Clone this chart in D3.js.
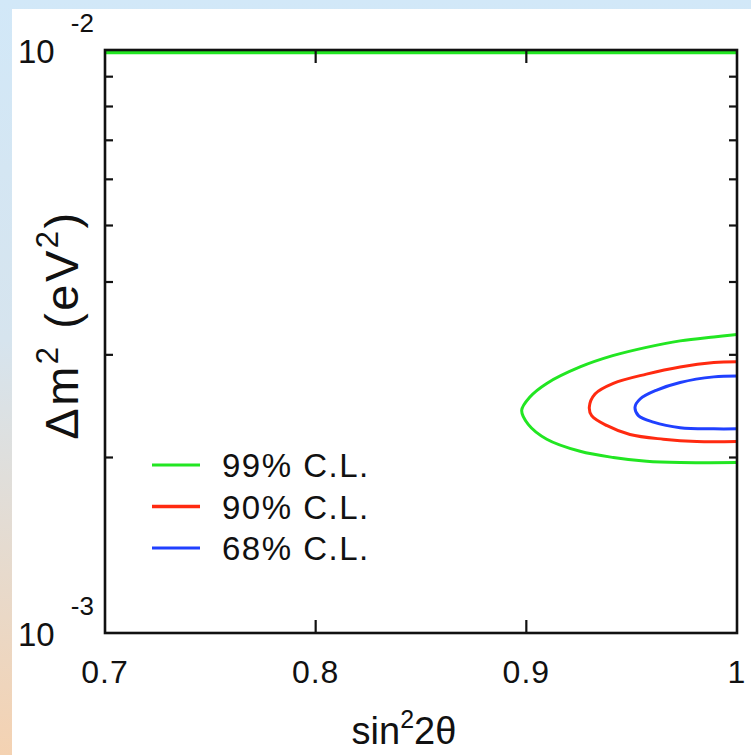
<!DOCTYPE html>
<meta charset="utf-8">
<style>
html, body { margin: 0; padding: 0; }
body { width: 751px; height: 755px; overflow: hidden; }
text { font-family: "Liberation Sans", Arial, sans-serif; fill: #111; }
</style>
<body>
<script src="https://d3js.org/d3.v7.min.js"></script>
<script>

var width = 751,
    height = 755;

// plot frame
var pLeft = 105, pRight = 737, pTop = 50, pBottom = 633;

// axis values
var xTicks = [0.7, 0.8, 0.9, 1];
var xTickLabels = ["0.7", "0.8", "0.9", "1"];
var yMinor = [2e-3, 3e-3, 4e-3, 5e-3, 6e-3, 7e-3, 8e-3, 9e-3];

// contours, [sin^2 2theta, dm^2]
var cl99 = [
  [1.0, 3.25e-3], [0.989, 3.22e-3], [0.973, 3.17e-3], [0.957, 3.09e-3], [0.941, 2.99e-3],
  [0.9255, 2.86e-3], [0.9097, 2.68e-3], [0.9017, 2.54e-3], [0.8978, 2.41e-3],
  [0.9009, 2.28e-3], [0.9097, 2.15e-3], [0.9255, 2.05e-3], [0.9413, 2.00e-3],
  [0.9571, 1.97e-3], [0.973, 1.96e-3], [1.0, 1.96e-3]
];
var cl90 = [
  [1.0, 2.92e-3], [0.989, 2.91e-3], [0.973, 2.86e-3], [0.957, 2.78e-3], [0.9413, 2.68e-3],
  [0.9326, 2.57e-3], [0.9299, 2.44e-3], [0.931, 2.36e-3], [0.9381, 2.27e-3],
  [0.9492, 2.19e-3], [0.965, 2.15e-3], [0.9809, 2.13e-3], [1.0, 2.13e-3]
];
var cl68 = [
  [1.0, 2.76e-3], [0.989, 2.75e-3], [0.973, 2.69e-3], [0.9619, 2.61e-3], [0.954, 2.52e-3],
  [0.9516, 2.44e-3], [0.9532, 2.36e-3], [0.9603, 2.30e-3], [0.973, 2.25e-3],
  [0.989, 2.24e-3], [1.0, 2.24e-3]
];
// 99% region also reaches the top edge
var cl99Top = [[0.7, 1e-2], [1.0, 1e-2]];

var legendLabels = ["99% C.L.", "90% C.L.", "68% C.L."];
var legendColors = ["#22e622", "#ff2a10", "#2040ff"];

var x = d3.scaleLinear().domain([0.7, 1]).range([pLeft, pRight]);
var y = d3.scaleLog().domain([1e-3, 1e-2]).range([pBottom, pTop]);

var svg = d3.select("body").append("svg")
  .attr("width", width)
  .attr("height", height);

// background
var defs = svg.append("defs");
var grad = defs.append("linearGradient")
  .attr("id", "bg").attr("x1", 0).attr("y1", 0).attr("x2", 0).attr("y2", 1);
grad.append("stop").attr("offset", "0%").attr("stop-color", "#d2e8f8");
grad.append("stop").attr("offset", "45%").attr("stop-color", "#d6e4ee");
grad.append("stop").attr("offset", "100%").attr("stop-color", "#f4d2b2");

defs.append("clipPath").attr("id", "plotclip")
  .append("rect")
  .attr("x", pLeft).attr("y", pTop - 4)
  .attr("width", pRight - pLeft).attr("height", pBottom - pTop + 4);

svg.append("rect").attr("width", width).attr("height", height).attr("fill", "url(#bg)");
svg.append("rect").attr("x", 12).attr("y", 9).attr("width", width - 12).attr("height", height - 9)
  .attr("fill", "#fff");

var line = d3.line()
  .x(function(d){ return x(d[0]); })
  .y(function(d){ return y(d[1]); })
  .curve(d3.curveCatmullRom.alpha(0.5));

var curves = svg.append("g").attr("clip-path", "url(#plotclip)");
[cl99, cl90, cl68].forEach(function(c, i){
  curves.append("path")
    .datum(c)
    .attr("fill", "none")
    .attr("stroke", legendColors[i])
    .attr("stroke-width", 3)
    .attr("d", line);
});
curves.append("path")
  .datum(cl99Top)
  .attr("fill", "none")
  .attr("stroke", legendColors[0])
  .attr("stroke-width", 3.5)
  .attr("transform", "translate(0,2.5)")
  .attr("d", d3.line().x(function(d){ return x(d[0]); }).y(function(d){ return y(d[1]); }));

// frame
svg.append("rect")
  .attr("x", pLeft).attr("y", pTop)
  .attr("width", pRight - pLeft).attr("height", pBottom - pTop)
  .attr("fill", "none")
  .attr("stroke", "#111")
  .attr("stroke-width", 2.6);

// ticks
var ticks = svg.append("g").attr("stroke", "#111").attr("stroke-width", 2.2);
xTicks.slice(1, 3).forEach(function(t){
  ticks.append("line").attr("x1", x(t)).attr("x2", x(t)).attr("y1", pBottom).attr("y2", pBottom - 13);
  ticks.append("line").attr("x1", x(t)).attr("x2", x(t)).attr("y1", pTop).attr("y2", pTop + 13);
});
yMinor.forEach(function(t){
  ticks.append("line").attr("x1", pLeft).attr("x2", pLeft + 8).attr("y1", y(t)).attr("y2", y(t));
  ticks.append("line").attr("x1", pRight).attr("x2", pRight - 8).attr("y1", y(t)).attr("y2", y(t));
});

// x tick labels
svg.selectAll("text.xt")
  .data(xTicks)
  .enter().append("text")
  .attr("class", "xt")
  .attr("x", function(d){ return x(d); })
  .attr("y", 683)
  .attr("text-anchor", "middle")
  .attr("font-size", 32)
  .attr("letter-spacing", 1)
  .text(function(d, i){ return xTickLabels[i]; });

// y tick labels (10^-2, 10^-3)
[[1e-2, "-2"], [1e-3, "-3"]].forEach(function(p){
  var yy = y(p[0]);
  var t = svg.append("text").attr("x", 18).attr("y", yy + 13).attr("font-size", 33);
  t.append("tspan").text("10");
  t.append("tspan").attr("font-size", 26).attr("dx", 16).attr("dy", -31).text(p[1]);
});

// axis titles
var xt = svg.append("text")
  .attr("x", 404).attr("y", 744)
  .attr("text-anchor", "middle")
  .attr("font-size", 38);
xt.append("tspan").text("sin");
xt.append("tspan").attr("font-size", 25).attr("dy", -16).text("2");
xt.append("tspan").attr("dy", 16).text("2θ");

var yt = svg.append("text")
  .attr("transform", "translate(78,325) rotate(-90)")
  .attr("text-anchor", "middle")
  .attr("font-size", 47)
  .attr("letter-spacing", 2.5);
yt.append("tspan").text("Δm");
yt.append("tspan").attr("font-size", 31).attr("dy", -20).text("2");
yt.append("tspan").attr("dy", 20).text(" (eV");
yt.append("tspan").attr("font-size", 31).attr("dy", -20).text("2");
yt.append("tspan").attr("dy", 20).text(")");

// legend
var legend = svg.append("g");
legendLabels.forEach(function(lab, i){
  var ly = 465 + i * 41.5;
  legend.append("line")
    .attr("x1", 152).attr("x2", 200).attr("y1", ly).attr("y2", ly)
    .attr("stroke", legendColors[i])
    .attr("stroke-width", i == 1 ? 3.5 : 2.8);
  legend.append("text")
    .attr("x", 222).attr("y", ly + 12)
    .attr("font-size", 33)
    .attr("letter-spacing", 1.5)
    .text(lab);
});

</script>
</body>
